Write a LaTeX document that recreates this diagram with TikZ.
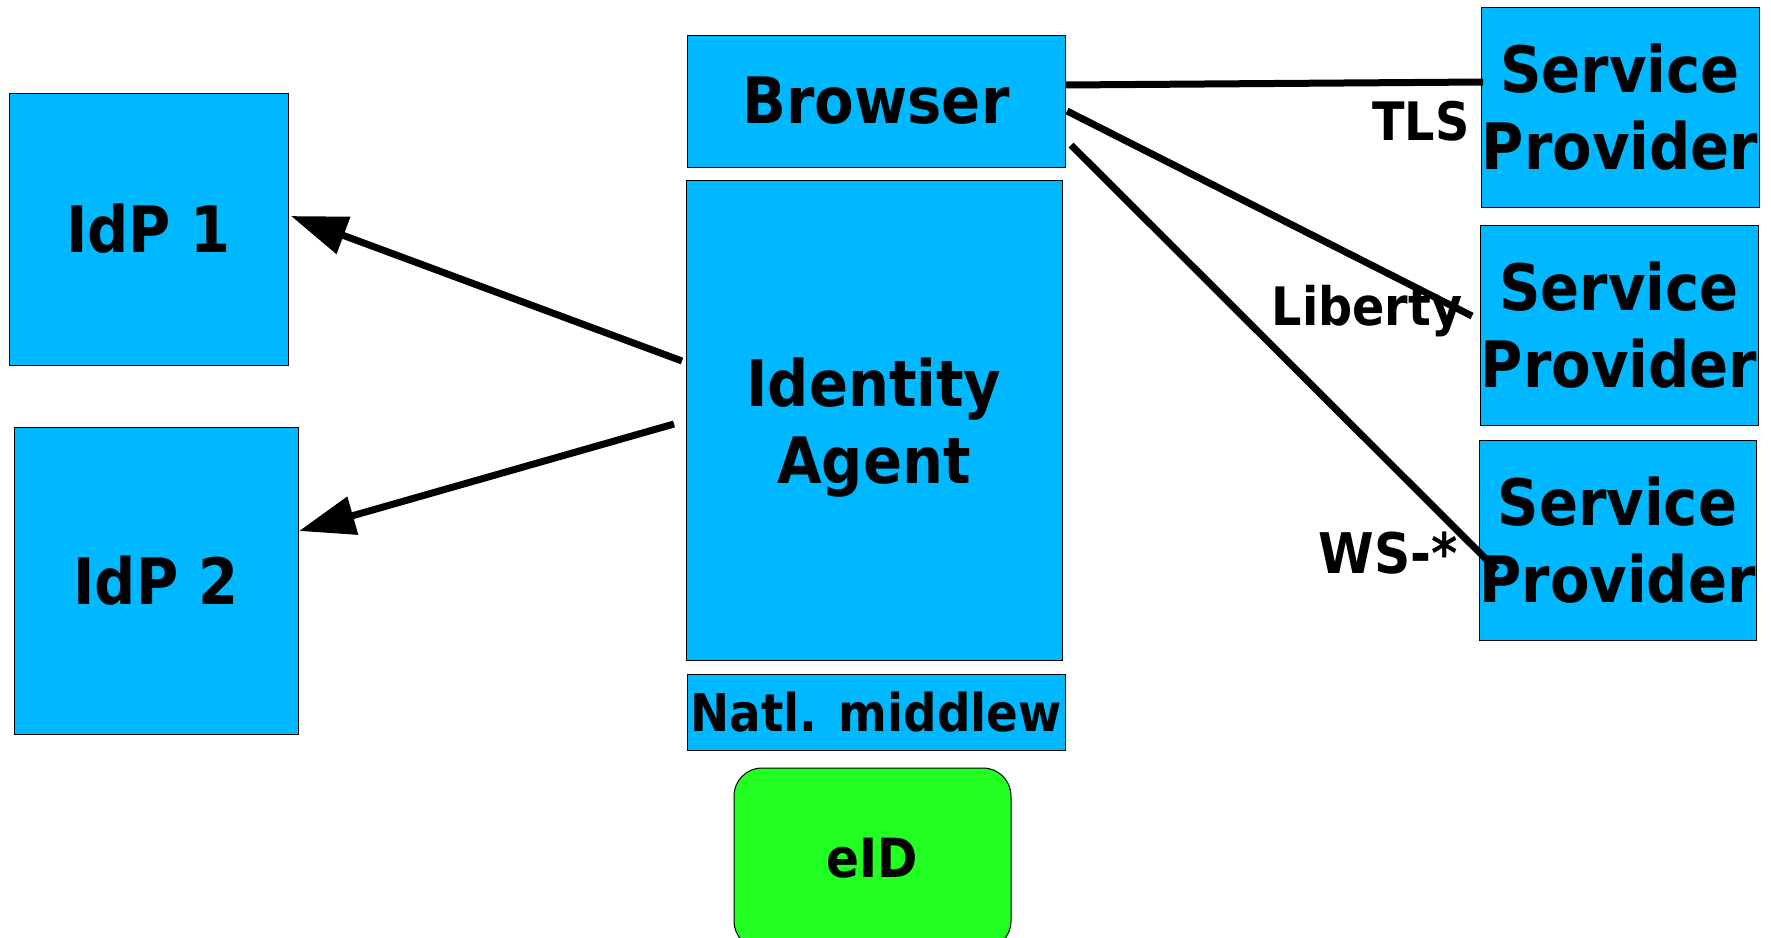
\documentclass[tikz,border=0pt]{standalone}
\usepackage{fontspec}
\setmainfont{DejaVu Sans Condensed}[BoldFont={DejaVu Sans Condensed Bold}]
\usetikzlibrary{arrows.meta}
\definecolor{boxblue}{RGB}{0,184,255}
\definecolor{cardgreen}{RGB}{34,255,34}
\begin{document}
\begin{tikzpicture}[x=1pt,y=-1pt,
  bigtext/.style={align=center, font=\fontsize{64}{77}\selectfont\bfseries},
  box/.style={draw=black, line width=1pt, fill=boxblue, inner sep=0pt, outer sep=0pt, bigtext},
  card/.style={box, fill=cardgreen, rounded corners=28pt, font=\fontsize{54}{60}\selectfont\bfseries},
  proto/.style={inner sep=0pt, font=\fontsize{53}{60}\selectfont\bfseries},
  link/.style={line width=7pt},
  call/.style={line width=7pt, -{Triangle[length=56pt,width=38pt]}}]
\useasboundingbox (0,0) rectangle (1771,937);

% identity providers
\node[box, minimum width=279pt, minimum height=272pt] (idp1) at (148.5,229) {IdP 1};
\node[box, minimum width=284pt, minimum height=307pt] (idp2) at (156,580.5) {IdP 2};

% client stack
\node[box, minimum width=378pt, minimum height=132pt] (browser) at (876,101) {Browser};
\node[box, minimum width=376pt, minimum height=480pt] (agent) at (874,420) {};
\node[bigtext, inner sep=0pt] (agenttext) at ([yshift=-8pt]agent.center) {Identity\\Agent};
\node[box, minimum width=378pt, minimum height=76pt, font=\fontsize{52}{60}\selectfont\bfseries] (mw) at (876,712) {Natl. middlew};
\node[card, minimum width=277pt, minimum height=181pt] (eid) at (872.5,858.5) {eID};

% service providers
\node[box, minimum width=278pt, minimum height=200pt] (sp1) at (1620,107) {Service\\Provider};
\node[box, minimum width=278pt, minimum height=200pt] (sp2) at (1619,325) {Service\\Provider};
\node[box, minimum width=277pt, minimum height=200pt] (sp3) at (1617.5,540) {Service\\Provider};

% protocol labels
\node[proto] (tls) at (1421,121) {TLS};
\node[proto] (lib) at (1367,311) {Liberty};
\node[proto, font=\fontsize{56}{60}\selectfont\bfseries] (ws) at (1388,553) {WS-*};

% browser to service providers
\draw[link] ([yshift=16pt]browser.east) -- ([xshift=2pt,yshift=25pt]sp1.west);
\draw[link] ([xshift=2pt,yshift=-10pt]browser.east) -- ([xshift=-8pt,yshift=9pt]sp2.west);
\draw[link] ([xshift=6pt,yshift=-44pt]browser.east) -- ([xshift=18pt,yshift=-30pt]sp3.west);

% agent to identity providers
\draw[call] ([xshift=-4pt,yshift=59pt]agent.west) -- ([xshift=3pt,yshift=13pt]idp1.east);
\draw[call] ([xshift=-12pt,yshift=-4pt]agent.west) -- ([xshift=1pt,yshift=49.5pt]idp2.east);
\end{tikzpicture}
\end{document}
